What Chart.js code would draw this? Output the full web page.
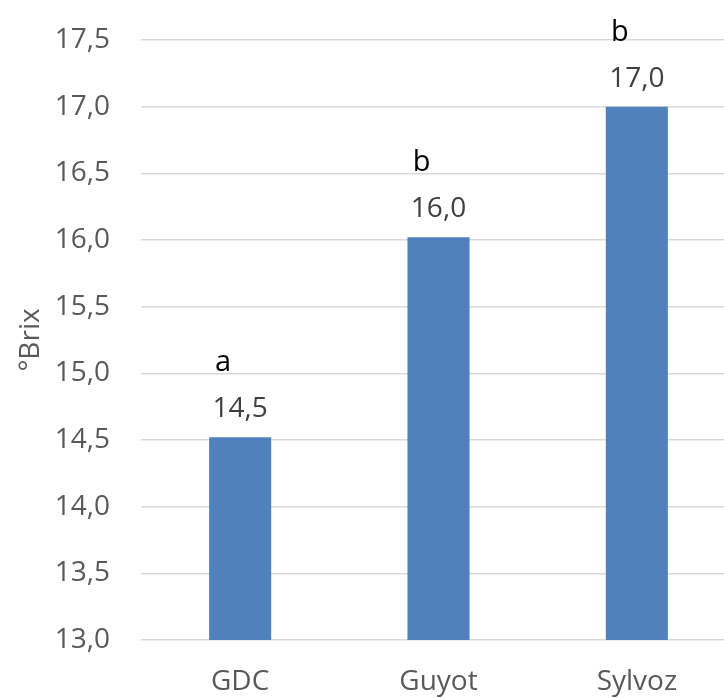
<!DOCTYPE html>
<html>
<head>
<meta charset="utf-8">
<script src="https://cdn.jsdelivr.net/npm/chart.js@4/dist/chart.umd.min.js"></script>
<style>
  html, body { margin: 0; padding: 0; background: #fff; overflow: hidden; }
  #wrap { width: 736px; height: 698px; position: relative; }
</style>
</head>
<body>
<div id="wrap"><canvas id="chart"></canvas></div>
<script>
const categories = ['GDC', 'Guyot', 'Sylvoz'];
const brixValues = [14.52, 16.02, 17.0];
const groupLetters = ['a', 'b', 'b'];
const yMin = 13.0;
const yMax = 17.5;
const yStep = 0.5;

const FONT = "'Open Sans', 'Liberation Sans', sans-serif";

function comma(n) {
  return n.toFixed(1).replace('.', ',');
}

// value + significance letter above each bar
const barLabels = {
  id: 'barLabels',
  afterDatasetsDraw(chart) {
    const ctx = chart.ctx;
    const meta = chart.getDatasetMeta(0);
    ctx.save();
    ctx.textAlign = 'center';
    ctx.textBaseline = 'alphabetic';
    meta.data.forEach((bar, i) => {
      ctx.font = `28px ${FONT}`;
      ctx.fillStyle = '#404040';
      ctx.fillText(comma(brixValues[i]), bar.x, bar.y - 20);
      ctx.fillStyle = '#000';
      ctx.font = `29px ${FONT}`;
      ctx.fillText(groupLetters[i], bar.x - 17, bar.y - 66);
    });
    ctx.restore();
  }
};

new Chart(document.getElementById('chart'), {
  type: 'bar',
  data: {
    labels: categories,
    datasets: [{
      data: brixValues,
      backgroundColor: '#4F81BD',
      borderWidth: 0,
      barPercentage: 0.313,
      categoryPercentage: 1
    }]
  },
  options: {
    responsive: true,
    maintainAspectRatio: false,
    animation: false,
    layout: { padding: { top: 40, left: 0, right: 0, bottom: 0 } },
    plugins: { legend: { display: false }, tooltip: { enabled: false } },
    scales: {
      x: {
        grid: { display: false },
        border: { display: false },
        ticks: { color: '#595959', font: { family: FONT, size: 28 }, padding: 17 },
        afterFit: (s) => { s.height = 58; s.paddingLeft = 0; s.paddingRight = 0; }
      },
      y: {
        min: yMin,
        max: yMax,
        border: { display: false },
        grid: { color: '#D9D9D9', lineWidth: 1.5, drawTicks: false },
        ticks: {
          stepSize: yStep,
          color: '#595959',
          font: { family: FONT, size: 28 },
          padding: 31,
          callback: (v) => comma(v)
        },
        title: {
          display: true,
          text: '°Brix',
          color: '#595959',
          font: { family: FONT, size: 28 },
          padding: { top: 14, bottom: 0 }
        },
        afterFit: (s) => { s.width = 141; s.paddingTop = 0; s.paddingBottom = 0; }
      }
    }
  },
  plugins: [barLabels]
});
</script>
</body>
</html>
